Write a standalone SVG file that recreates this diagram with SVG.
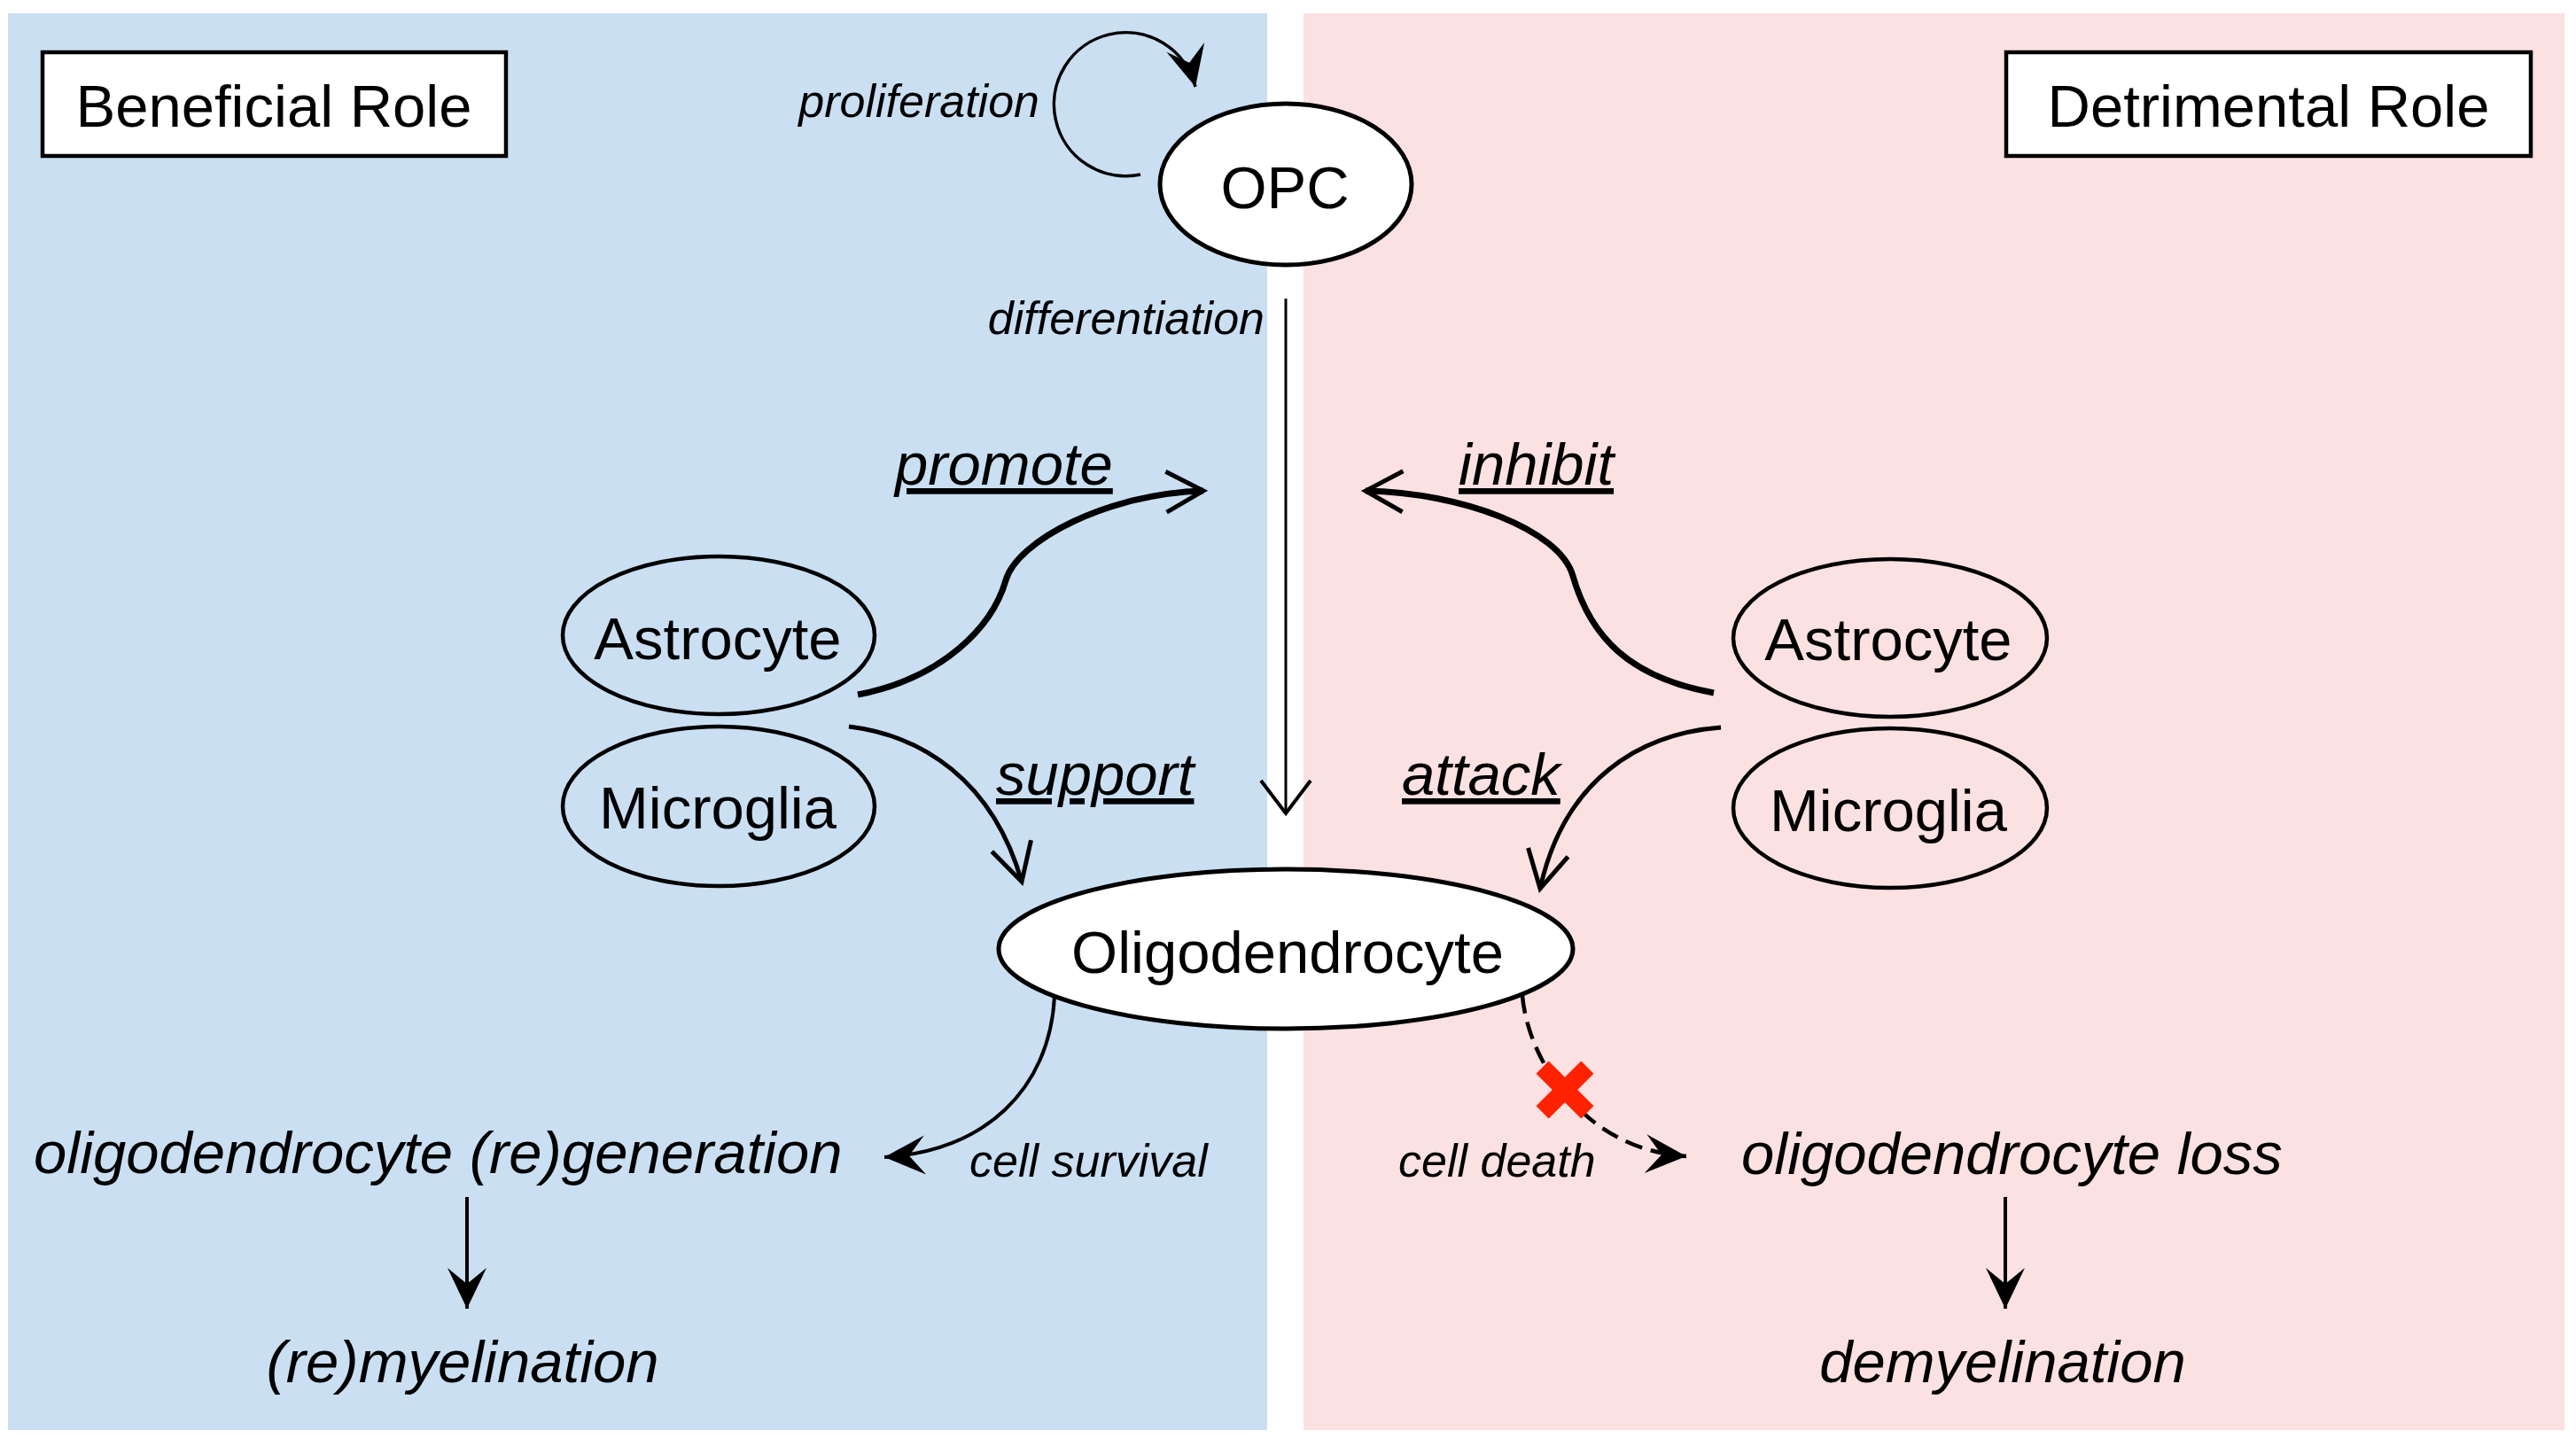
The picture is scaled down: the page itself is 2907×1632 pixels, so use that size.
<svg xmlns="http://www.w3.org/2000/svg" width="2907" height="1632" viewBox="0 0 2907 1632">
<style>
  text { font-family: "Liberation Sans", Arial, Helvetica, sans-serif; fill: #000; }
  .big { font-size: 67px; }
  .mid { font-size: 67px; font-style: italic; }
  .small { font-size: 52px; font-style: italic; }
  .ul { text-decoration: underline; }
  .c { text-anchor: middle; }
  .e { text-anchor: end; }
  .box { fill: #fff; stroke: #000; stroke-width: 4.5; }
  .wnode { fill: #fff; stroke: #000; stroke-width: 5; }
  .cnode { fill: none; stroke: #000; stroke-width: 4.5; }
  .ln { fill: none; stroke: #000; }
</style>
<defs>
  <marker id="vhead" markerUnits="userSpaceOnUse" orient="auto" refX="0" refY="0" markerWidth="10" markerHeight="10" overflow="visible">
    <path d="M-42,-23 L0,0 L-42,23" fill="none" stroke="#000" stroke-width="5"/>
  </marker>
  <marker id="vthin" markerUnits="userSpaceOnUse" orient="auto" refX="0" refY="0" markerWidth="10" markerHeight="10" overflow="visible">
    <path d="M-37,-28 L0,0 L-37,28" fill="none" stroke="#000" stroke-width="4"/>
  </marker>
  <marker id="fhead" markerUnits="userSpaceOnUse" orient="auto" refX="0" refY="0" markerWidth="10" markerHeight="10" overflow="visible">
    <path d="M0,0 L-46,-22 L-28,0 L-46,22 Z" fill="#000"/>
  </marker>
</defs>

<rect width="2907" height="1632" fill="#fff"/>
<g id="panels">
  <rect id="beneficial-panel" x="9" y="15" width="1421" height="1599" fill="#CADFF2"/>
  <rect id="detrimental-panel" x="1471" y="15" width="1423" height="1599" fill="#FBE1E1"/>
</g>

<g id="beneficial-title">
  <rect class="box" x="48" y="59" width="523" height="117"/>
  <text class="big c" x="309" y="143">Beneficial Role</text>
</g>
<g id="detrimental-title">
  <rect class="box" x="2264" y="59" width="592" height="117"/>
  <text class="big c" x="2560" y="143">Detrimental Role</text>
</g>

<g id="opc">
  <ellipse class="wnode" cx="1451" cy="208" rx="142" ry="91"/>
  <text class="big c" x="1450" y="235">OPC</text>
</g>
<g id="astrocyte-left">
  <ellipse class="cnode" cx="811" cy="717" rx="176" ry="89"/>
  <text class="big c" x="810" y="744">Astrocyte</text>
</g>
<g id="microglia-left">
  <ellipse class="cnode" cx="811" cy="910" rx="176" ry="90"/>
  <text class="big c" x="810" y="935">Microglia</text>
</g>
<g id="astrocyte-right">
  <ellipse class="cnode" cx="2133" cy="720" rx="177" ry="89"/>
  <text class="big c" x="2131" y="745">Astrocyte</text>
</g>
<g id="microglia-right">
  <ellipse class="cnode" cx="2133" cy="912" rx="177" ry="90"/>
  <text class="big c" x="2131" y="938">Microglia</text>
</g>
<g id="oligodendrocyte">
  <ellipse class="wnode" cx="1451" cy="1071" rx="324" ry="90"/>
  <text class="big c" x="1453" y="1098">Oligodendrocyte</text>
</g>

<g id="outcome-regeneration">
  <text class="mid" x="38" y="1324">oligodendrocyte (re)generation</text>
</g>
<g id="outcome-remyelination">
  <text class="mid c" x="522" y="1560">(re)myelination</text>
</g>
<g id="outcome-loss">
  <text class="mid" x="1965" y="1325">oligodendrocyte loss</text>
</g>
<g id="outcome-demyelination">
  <text class="mid c" x="2260" y="1560">demyelination</text>
</g>

<g id="connectors">
  <path id="proliferation" class="ln" stroke-width="3.5" d="M1287,197 A81,81 0 1 1 1349,98" marker-end="url(#fhead)"/>
  <path id="differentiation" class="ln" stroke-width="3" d="M1451,337 L1451,918" marker-end="url(#vthin)"/>
  <path id="promote" class="ln" stroke-width="7" d="M968,784 C1065,765 1120,707 1135,655 C1148,610 1250,557 1358,554" marker-end="url(#vhead)"/>
  <path id="inhibit" class="ln" stroke-width="7" d="M1934,782 C1840,765 1795,720 1775,650 C1760,598 1650,556 1541,554" marker-end="url(#vhead)"/>
  <path id="support" class="ln" stroke-width="5" d="M958,820 C1040,830 1120,880 1153,995" marker-end="url(#vhead)"/>
  <path id="attack" class="ln" stroke-width="5" d="M1942,821 C1850,828 1765,880 1738,1003" marker-end="url(#vhead)"/>
  <path id="cell-survival" class="ln" stroke-width="4" d="M1190,1124 C1185,1230 1110,1300 998,1306" marker-end="url(#fhead)"/>
  <path id="cell-death" class="ln" stroke-width="4.5" stroke-dasharray="20 10" d="M1718,1124 C1725,1200 1790,1298 1903,1305" marker-end="url(#fhead)"/>
  <path id="to-remyelination" class="ln" stroke-width="4" d="M527,1351 L527,1477" marker-end="url(#fhead)"/>
  <path id="to-demyelination" class="ln" stroke-width="4" d="M2263,1351 L2263,1477" marker-end="url(#fhead)"/>
  <g id="block-mark" stroke="#FF2200" stroke-width="20">
    <line x1="1740.6" y1="1204.6" x2="1791.4" y2="1255.4"/>
    <line x1="1791.4" y1="1204.6" x2="1740.6" y2="1255.4"/>
  </g>
</g>

<g id="edge-labels">
  <text class="small e" x="1173" y="132">proliferation</text>
  <text class="small e" x="1427" y="377">differentiation</text>
  <text class="mid ul" x="1010" y="547">promote</text>
  <text class="mid ul" x="1646" y="547">inhibit</text>
  <text class="mid ul" x="1124" y="897">support</text>
  <text class="mid ul" x="1582" y="897">attack</text>
  <text class="small" x="1094" y="1328">cell survival</text>
  <text class="small" x="1578" y="1328">cell death</text>
</g>
</svg>
